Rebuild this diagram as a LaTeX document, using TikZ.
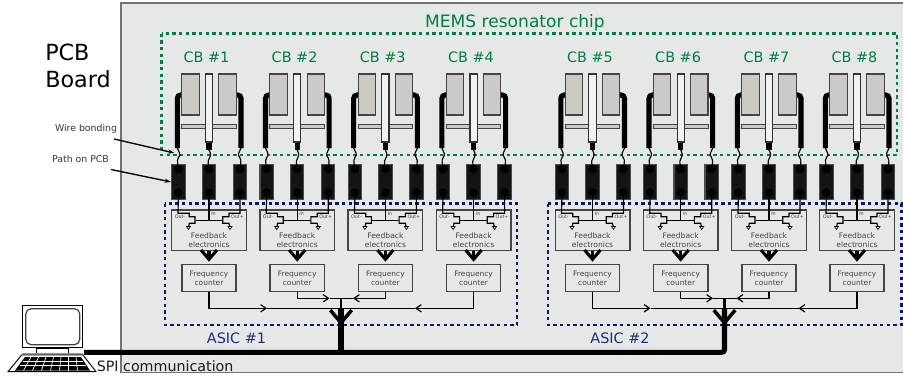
\documentclass[tikz,border=0pt]{standalone}
\usepackage{fontspec}
\setmainfont{DejaVu Sans}
\usetikzlibrary{positioning, arrows.meta}
\definecolor{boardgray}{HTML}{E6E8E8}
\definecolor{memsgreen}{HTML}{007F3F}
\definecolor{asicblue}{HTML}{0B1A66}
\definecolor{asictext}{HTML}{1F2D7E}
\definecolor{massgray}{HTML}{CCCAC7}
\definecolor{inkgray}{HTML}{444444}
\tikzset{
  board/.style={draw=black!55, line width=1.1pt, fill=boardgray},
  memsframe/.style={draw=memsgreen, line width=2.1pt, dash pattern=on 2.5pt off 2.5pt},
  asicframe/.style={draw=asicblue, line width=2.1pt, dash pattern=on 2.5pt off 2.5pt},
  masspad/.style={draw=inkgray, line width=0.8pt, fill=massgray, inner sep=0pt, minimum width=13pt, minimum height=30.75pt},
  beam/.style={draw=black!80, line width=0.8pt, fill=black!5, inner sep=0pt, minimum width=5.4pt, minimum height=51pt},
  crossbar/.style={draw=inkgray, line width=0.7pt, fill=massgray, inner sep=0pt, minimum width=41pt, minimum height=2.8pt},
  anchorblock/.style={fill=black, inner sep=0pt, minimum width=4pt, minimum height=5.2pt},
  leg/.style={line width=3.8pt, rounded corners=2.5pt, draw=black},
  wire/.style={line width=0.85pt, draw=black},
  pcbpad/.style={draw=black!70, line width=0.8pt, fill=black!92, inner sep=0pt, minimum width=10.1pt, minimum height=26.8pt},
  paddot/.style={circle, fill=black, inner sep=0pt, minimum size=6.4pt},
  feedback/.style={draw=inkgray, line width=1pt, inner sep=0pt, minimum width=56pt, minimum height=30.5pt},
  counter/.style={draw=inkgray, line width=1pt, align=center, inner sep=0pt, minimum width=40.7pt, minimum height=20.5pt, font=\fontsize{5.6}{6.8}\selectfont, text=inkgray},
  fatarrow/.style={-{Straight Barb[length=7pt, width=12pt]}, line width=2.3pt, draw=black},
  busarrow/.style={-{Straight Barb[length=9.5pt, width=16pt]}, line width=2.6pt, draw=black},
  sigarrow/.style={-{Straight Barb[length=4pt, width=5.5pt]}, line width=0.9pt, draw=black},
  sigline/.style={line width=0.9pt, draw=black},
  spibus/.style={line width=3.8pt, rounded corners=2pt, draw=black},
  callout/.style={-{Stealth[length=5pt, width=3pt]}, line width=1pt, draw=black},
  cblabel/.style={font=\fontsize{10.8}{13}\selectfont, text=memsgreen, anchor=base},
  asiclabel/.style={font=\fontsize{10.8}{13}\selectfont, text=asictext, anchor=base},
  smalllabel/.style={font=\fontsize{7}{8}\selectfont, text=black!80, anchor=base},
  pinlabel/.style={font=\fontsize{3.6}{4}\selectfont, text=inkgray, inner sep=0pt},
}
\begin{document}
\begin{tikzpicture}[x=0.75pt, y=-0.75pt]
  \useasboundingbox (0,0) rectangle (903,379);

  % PCB board and frames
  \draw[board] (121,3) rectangle (915,372.5);
  \node[font=\fontsize{16.7}{20.5}\selectfont, align=left, anchor=west, inner sep=0pt] (pcblabel) at (45,66) {PCB\\Board};
  \draw[memsframe] (161.5,33.5) rectangle (897,155);
  \draw[asicframe] (165,203.5) rectangle (517,325);
  \draw[asicframe] (548,203.5) rectangle (901.5,325);
  \node[font=\fontsize{12.8}{15}\selectfont, text=memsgreen, anchor=base] (memslabel) at (515,27) {MEMS resonator chip};
  \node[asiclabel] (asica) at (236.5,343.3) {ASIC \#1};
  \node[asiclabel] (asicb) at (620,343.3) {ASIC \#2};

  % One channel per coupled beam
  \foreach \i/\c in {1/209, 2/297.2, 3/385.4, 4/473.6, 5/592.5, 6/680.7, 7/769, 8/857}{
    \node[cblabel] (cb\i) at (\c-2.6,62) {CB \#\i};

    % Resonator
    \draw[leg] (\c-27,95) -- (\c-31.7,95) -- (\c-31.7,148) coordinate (legl\i);
    \draw[leg] (\c+27,95) -- (\c+32,95) -- (\c+32,148) coordinate (legr\i);
    \node[masspad] (massl\i) at (\c-18.6,94.5) {};
    \node[masspad] (massr\i) at (\c+18.6,94.5) {};
    \node[crossbar] (bar\i) at (\c,126.8) {};
    \node[beam] (beam\i) at (\c,108) {};
    \node[anchorblock, below=0pt of beam\i] (foot\i) {};

    % Paths on the PCB
    \node[pcbpad] (padl\i) at (\c-30.5,182) {};
    \node[pcbpad] (padc\i) at (\c,182) {};
    \node[pcbpad] (padr\i) at (\c+31,182) {};
    \foreach \p in {l,c,r}{
      \node[paddot] (top\p\i) at ([yshift=9.7pt]pad\p\i.center) {};
      \node[paddot] (bot\p\i) at ([yshift=-8pt]pad\p\i.center) {};
    }

    % Wire bonds
    \draw[wire] (legl\i) .. controls +(2,5) and +(3,-4) .. ++(1,10) .. controls +(-2,3) and +(0,-4) .. (topl\i.center);
    \draw[wire] (foot\i.south) .. controls +(2,4) and +(2,-4) .. ++(0,9) .. controls +(-2,3) and +(0,-4) .. (topc\i.center);
    \draw[wire] (legr\i) .. controls +(-2,5) and +(-3,-4) .. ++(-1,10) .. controls +(2,3) and +(0,-4) .. (topr\i.center);

    % Feedback electronics
    \node[feedback] (fb\i) at (\c,230.3) {};
    \node[font=\fontsize{5.7}{6.8}\selectfont, text=inkgray, align=center, anchor=base] (fbtext\i) at (\c,238) {Feedback};
    \node[font=\fontsize{5.7}{6.8}\selectfont, text=inkgray, align=center, anchor=base] (fbtextb\i) at (\c,247) {electronics};
    \node[pinlabel] (outm\i) at (\c-29,217) {Out-};
    \node[pinlabel] (outp\i) at (\c+28.5,217) {Out+};
    \node[pinlabel] (inpin\i) at (\c+4.5,213.5) {In};
    \draw[wire] (botc\i.center) -- (\c,220.7);
    \draw[wire] (\c-13.3,220.7) -- (\c+13.7,220.7);
    \draw[wire] (botl\i.center) -- (\c-31,213.3) -- (\c-19.7,213.3) -- (\c-19.7,216.7) -- (\c-14,216.7) -- (\c-14,223.3) -- (\c-19.7,223.3) -- (\c-20.5,228);
    \draw[wire] (botr\i.center) -- (\c+31,213.3) -- (\c+20,213.3) -- (\c+20,216.7) -- (\c+13.7,216.7) -- (\c+13.7,223.3) -- (\c+20,223.3) -- (\c+21,228);
    \draw[line width=0.5pt, fill=white] (\c-22.5,226.5) -- (\c-18.5,226.5) -- (\c-20.5,229.5) -- cycle;
    \draw[line width=0.5pt, fill=white] (\c+19,226.5) -- (\c+23,226.5) -- (\c+21,229.5) -- cycle;

    % Frequency counter
    \node[counter] (fc\i) at (\c,278) {Frequency\\counter};
    \draw[fatarrow] (fb\i.south) -- ([yshift=1.5pt]fc\i.north);
  }

  % Counters to the SPI bus
  \foreach \a/\b/\d/\e/\x in {1/2/3/4/341, 5/6/7/8/724.5}{
    \coordinate (upj\a) at (\x,298.3);
    \coordinate (lowj\a) at (\x,308.3);
    \coordinate (bus\a) at (\x,352.3);
    \draw[sigarrow] (fc\a.south) |- (\x-74,308.3) coordinate (tipa\a);
    \draw[sigline] (tipa\a) -- (lowj\a);
    \draw[sigarrow] (fc\b.south) |- (\x-11.5,298.3) coordinate (tipb\a);
    \draw[sigline] (tipb\a) -- (upj\a);
    \draw[sigarrow] (fc\d.south) |- (\x+12,298.3) coordinate (tipd\a);
    \draw[sigline] (tipd\a) -- (upj\a);
    \draw[sigarrow] (fc\e.south) |- (\x+74,308.3) coordinate (tipe\a);
    \draw[sigline] (tipe\a) -- (lowj\a);
    \draw[line width=2.2pt] (upj\a) -- (lowj\a);
    \draw[busarrow] (lowj\a) -- (\x,325.5);
  }

  % Computer
  \node[draw, line width=0.7pt, fill=white, inner sep=0pt, minimum width=45.3pt, minimum height=32pt] (monitor) at (52.5,326.3) {};
  \node[draw=black!75, line width=0.9pt, rounded corners=4pt, inner sep=0pt, minimum width=40.5pt, minimum height=27pt] (screen) at (52.8,326.7) {};
  \node[draw, line width=0.7pt, fill=white, inner sep=0pt, minimum width=24pt, minimum height=5.4pt, below=0pt of monitor] (stand) {};
  \fill[black!40] (22,353.2) rectangle (83,355);
  \draw[line width=0.7pt, fill=white] (21.7,355) -- (83,355) -- (96,371.7) -- (8,371.7) -- cycle;
  \fill[black] (25,357) -- (81,357) -- (90,370.5) -- (15,370.5) -- cycle;
  \foreach \k in {0,...,6}{
    \draw[white, line width=0.5pt] (31+\k*7.5,357) -- (23.5+\k*9,370.5);
  }
  \draw[white, line width=0.5pt] (23,361) -- (83,361);
  \draw[white, line width=0.5pt] (20,365.5) -- (86,365.5);

  % SPI bus
  \coordinate (pcport) at (84,352.3);
  \draw[spibus] (pcport) -- (bus5) -- (lowj5);
  \draw[spibus] (bus1) -- (lowj1);
  \node[font=\fontsize{10.7}{13}\selectfont, text=black!90, anchor=base west, inner sep=0pt] (spilabel) at (96.5,371) {SPI communication};

  % Callouts
  \node[smalllabel] (wirelabel) at (86,131.7) {Wire bonding};
  \node[smalllabel] (pathlabel) at (80.5,162.7) {Path on PCB};
  \coordinate (wiretail) at (114,139);
  \coordinate (wiretip) at (174.5,153);
  \coordinate (pathtail) at (111,169.5);
  \draw[callout] (wiretail) -- (wiretip);
  \draw[callout] (pathtail) -- (padl1.west);
\end{tikzpicture}
\end{document}
